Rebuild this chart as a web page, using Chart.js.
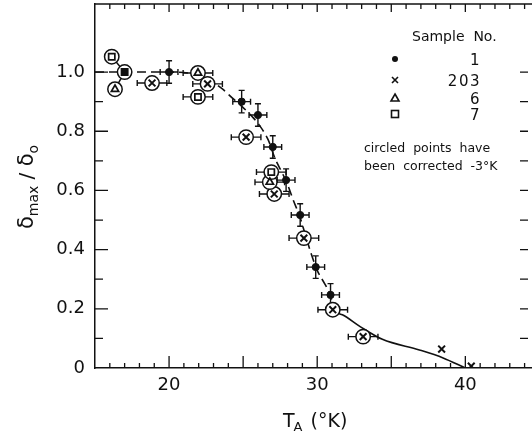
<!DOCTYPE html>
<html>
<head>
<meta charset="utf-8">
<script src="https://cdn.jsdelivr.net/npm/chart.js@4.4.1/dist/chart.umd.min.js"></script>
<style>
  html, body { margin: 0; padding: 0; background: #fff; }
  #wrap { width: 532px; height: 438px; position: relative; }
</style>
</head>
<body>
<div id="wrap"><canvas id="chart"></canvas></div>
<script>
// sample 1 - filled dots, with T and delta error bars
const s1T = [20.0, 24.9, 26.0, 27.0, 27.9, 28.85, 29.9, 30.9];
const s1D = [1.0, 0.90, 0.855, 0.747, 0.635, 0.517, 0.341, 0.247];
const s1ErrT = 0.6;
const s1ErrD = 0.038;

// sample 203 - crosses; first ones are circled (corrected -3 K)
const s203T = [18.85, 22.6, 25.2, 27.1, 29.1, 31.05, 33.1, 38.4, 40.4];
const s203D = [0.963, 0.96, 0.78, 0.588, 0.439, 0.197, 0.106, 0.064, 0.006];
const s203Circled = [true, true, true, true, true, true, true, false, false];

// sample 6 - triangles (all circled)
const s6T = [16.35, 21.95, 26.8];
const s6D = [0.942, 0.997, 0.628];

// sample 7 - squares (all circled), the one at 17 K is filled
const s7T = [16.13, 17.0, 21.95, 26.9];
const s7D = [1.052, 1.0, 0.916, 0.662];
const s7Filled = [false, true, false, false];

// error of the corrected temperature
const circErrT = 1.0;

// the drawn curve through the points
const curveT = [15, 20, 21.5, 22.5, 23.6, 24.3, 25.0, 25.6, 26.1, 26.7, 27.15, 27.6, 28.0, 28.4, 28.8,
                29.2, 29.6, 30.0, 30.5, 30.9, 31.1, 31.7, 32.9, 34.4, 36.9, 38.5, 40];
const curveD = [1.0, 1.0, 0.995, 0.98, 0.943, 0.911, 0.88, 0.85, 0.82, 0.77, 0.708, 0.663, 0.62, 0.565, 0.515,
                0.45, 0.385, 0.33, 0.285, 0.245, 0.2, 0.18, 0.14, 0.097, 0.061, 0.034, 0.0];

const yTickLabels = ['0', '0.2', '0.4', '0.6', '0.8', '1.0'];
const xTickLabels = ['20', '30', '40'];

const FONT = '"DejaVu Sans", sans-serif';

const pts = (xs, ys) => xs.map((x, i) => ({ x: x, y: ys[i] }));

// circled points collected from the samples
const circled = [];
s203T.forEach((t, i) => { if (s203Circled[i]) circled.push({ x: t, y: s203D[i] }); });
s6T.forEach((t, i) => circled.push({ x: t, y: s6D[i] }));
s7T.forEach((t, i) => circled.push({ x: t, y: s7D[i] }));

// horizontal error bars for circled points (not on the 16-17 K cluster)
const circErr = circled.map(p => p.x > 18 ? circErrT : 0);

// short lines joining the overlapping cluster at 16-17 K
const cluster = [
  { x: s7T[0], y: s7D[0] },
  { x: s7T[1], y: s7D[1] },
  { x: s6T[0], y: s6D[0] }
];

const errorBars = {
  id: 'errorBars',
  beforeDatasetsDraw(chart) {
    const ctx = chart.ctx;
    const xs = chart.scales.x, ys = chart.scales.y;
    ctx.save();
    ctx.strokeStyle = '#111';
    ctx.lineWidth = 1.4;
    chart.data.datasets.forEach(ds => {
      if (!ds.errX && !ds.errY) return;
      ds.data.forEach((p, i) => {
        const ex = ds.errX ? (Array.isArray(ds.errX) ? ds.errX[i] : ds.errX) : 0;
        const ey = ds.errY ? (Array.isArray(ds.errY) ? ds.errY[i] : ds.errY) : 0;
        const px = xs.getPixelForValue(p.x), py = ys.getPixelForValue(p.y);
        ctx.beginPath();
        if (ex) {
          const l = xs.getPixelForValue(p.x - ex), r = xs.getPixelForValue(p.x + ex);
          ctx.moveTo(l, py); ctx.lineTo(r, py);
          ctx.moveTo(l, py - 3); ctx.lineTo(l, py + 3);
          ctx.moveTo(r, py - 3); ctx.lineTo(r, py + 3);
        }
        if (ey) {
          const t = ys.getPixelForValue(p.y + ey), b = ys.getPixelForValue(p.y - ey);
          ctx.moveTo(px, t); ctx.lineTo(px, b);
          ctx.moveTo(px - 3, t); ctx.lineTo(px + 3, t);
          ctx.moveTo(px - 3, b); ctx.lineTo(px + 3, b);
        }
        ctx.stroke();
      });
    });
    ctx.restore();
  }
};

// inward ticks, top frame line, titles and the key
const frame = {
  id: 'frame',
  afterDraw(chart) {
    const ctx = chart.ctx;
    const a = chart.chartArea;
    const xs = chart.scales.x, ys = chart.scales.y;
    ctx.save();
    ctx.strokeStyle = '#111';
    ctx.fillStyle = '#111';

    // top line
    ctx.lineWidth = 1.5;
    ctx.beginPath();
    ctx.moveTo(a.left, a.top); ctx.lineTo(a.right, a.top);
    ctx.stroke();

    ctx.lineWidth = 1.3;
    ctx.beginPath();
    for (let t = 16; t <= 44; t++) {
      const px = xs.getPixelForValue(t);
      const len = t % 5 === 0 ? 12 : 5;
      ctx.moveTo(px, a.bottom); ctx.lineTo(px, a.bottom - len);
      ctx.moveTo(px, a.top); ctx.lineTo(px, a.top + (t % 5 === 0 ? 8 : 5));
    }
    for (let k = 1; k <= 10; k++) {
      const py = ys.getPixelForValue(k / 10);
      ctx.moveTo(a.left, py); ctx.lineTo(a.left + (k % 2 === 0 ? 13 : 8), py);
      ctx.moveTo(a.right - 4, py); ctx.lineTo(a.right - 12, py);
    }
    ctx.stroke();

    // x title: T_A (°K)
    const bx = a.left + 188, by = 427;
    ctx.textBaseline = 'alphabetic';
    ctx.textAlign = 'left';
    ctx.font = '19px ' + FONT;
    ctx.fillText('T', bx, by);
    let w = ctx.measureText('T').width;
    ctx.font = '13px ' + FONT;
    ctx.fillText('A', bx + w - 1, by + 4);
    w += ctx.measureText('A').width + 1;
    ctx.font = '19px ' + FONT;
    ctx.fillText(' (°K)', bx + w, by);

    // y title: delta_max / delta_o, rotated
    ctx.save();
    ctx.translate(33, 187);
    ctx.rotate(-Math.PI / 2);
    const parts = [
      ['δ', 21, 0], ['max', 14, 5], [' / ', 20, 0], ['δ', 21, 0], ['o', 14, 5]
    ];
    let total = 0;
    parts.forEach(p => { ctx.font = p[1] + 'px ' + FONT; total += ctx.measureText(p[0]).width; });
    let cx = -total / 2;
    parts.forEach(p => {
      ctx.font = p[1] + 'px ' + FONT;
      ctx.fillText(p[0], cx, p[2]);
      cx += ctx.measureText(p[0]).width;
    });
    ctx.restore();

    // key
    ctx.font = '14px ' + FONT;
    ctx.fillText('Sample  No.', 412, 41);
    const rowY = [59, 80, 98, 114];
    const rowN = ['1', '203', '6', '7'];
    ctx.font = '15px ' + FONT;
    ctx.textAlign = 'right';
    ctx.letterSpacing = '1.5px';
    rowN.forEach((n, i) => ctx.fillText(n, 481, rowY[i] + 6));
    ctx.letterSpacing = '0px';
    const sx = 395;
    ctx.lineWidth = 1.6;
    ctx.beginPath(); ctx.arc(sx, rowY[0], 3, 0, Math.PI * 2); ctx.fill();
    ctx.beginPath();
    ctx.moveTo(sx - 3, rowY[1] - 3); ctx.lineTo(sx + 3, rowY[1] + 3);
    ctx.moveTo(sx + 3, rowY[1] - 3); ctx.lineTo(sx - 3, rowY[1] + 3);
    ctx.stroke();
    ctx.beginPath();
    ctx.moveTo(sx, rowY[2] - 4); ctx.lineTo(sx + 4, rowY[2] + 3); ctx.lineTo(sx - 4, rowY[2] + 3); ctx.closePath();
    ctx.stroke();
    ctx.strokeRect(sx - 3.5, rowY[3] - 3.5, 7, 7);

    ctx.textAlign = 'left';
    ctx.font = '12.5px ' + FONT;
    ctx.fillText('circled  points  have', 364, 152);
    ctx.fillText('been  corrected  -3°K', 364, 170);
    ctx.restore();
  }
};

new Chart(document.getElementById('chart'), {
  type: 'scatter',
  data: {
    datasets: [
      {
        label: 'sample 1',
        data: pts(s1T, s1D),
        errX: s1ErrT, errY: s1ErrD,
        pointStyle: 'circle', pointRadius: 3.6,
        backgroundColor: '#111', borderColor: '#111', borderWidth: 1,
        order: 0
      },
      {
        label: 'sample 203',
        data: pts(s203T, s203D),
        pointStyle: 'crossRot', pointRadius: 4.8,
        borderColor: '#111', borderWidth: 2,
        order: 0
      },
      {
        label: 'sample 6',
        data: pts(s6T, s6D),
        pointStyle: 'triangle', pointRadius: 4.2,
        backgroundColor: '#fff', borderColor: '#111', borderWidth: 1.7,
        order: 0
      },
      {
        label: 'sample 7',
        data: pts(s7T, s7D),
        pointStyle: 'rect', pointRadius: 4.4,
        backgroundColor: s7Filled.map(f => f ? '#111' : '#fff'),
        borderColor: '#111', borderWidth: 1.7,
        order: 0
      },
      {
        label: 'circled',
        data: circled,
        errX: circErr,
        pointStyle: 'circle', pointRadius: 7.2,
        backgroundColor: '#fff', borderColor: '#111', borderWidth: 1.5,
        order: 1
      },
      {
        label: 'cluster',
        type: 'line',
        data: cluster,
        showLine: true, pointRadius: 0,
        borderColor: '#111', borderWidth: 1.5,
        order: 2
      },
      {
        label: 'curve',
        type: 'line',
        data: pts(curveT, curveD),
        showLine: true, pointRadius: 0,
        cubicInterpolationMode: 'monotone',
        borderColor: '#111', borderWidth: 1.6,
        segment: {
          borderDash: c => c.p0.parsed.x < 31 ? [9, 5] : undefined
        },
        order: 3
      }
    ]
  },
  options: {
    responsive: true,
    maintainAspectRatio: false,
    animation: false,
    layout: { autoPadding: false, padding: { top: 4, right: 0, left: 0, bottom: 0 } },
    plugins: { legend: { display: false }, tooltip: { enabled: false } },
    scales: {
      x: {
        type: 'linear',
        min: 15, max: 44.5,
        afterFit: s => { s.height = 70; s.paddingLeft = 0; s.paddingRight = 0; },
        grid: { display: false, drawTicks: false },
        border: { display: true, color: '#111', width: 1.5 },
        ticks: {
          stepSize: 1, autoSkip: false, maxRotation: 0, padding: 7,
          color: '#111', font: { family: FONT, size: 18 },
          callback: v => xTickLabels.includes(String(v)) ? String(v) : ''
        }
      },
      y: {
        min: 0, max: 1.23,
        afterFit: s => { s.width = 95; s.paddingTop = 0; s.paddingBottom = 0; },
        grid: { display: false, drawTicks: false },
        border: { display: true, color: '#111', width: 1.5 },
        ticks: {
          stepSize: 0.1, autoSkip: false, padding: 10,
          color: '#111', font: { family: FONT, size: 18 },
          callback: v => {
            const k = Math.round(v * 10);
            if (k % 2 || k > 10 || Math.abs(v * 10 - k) > 1e-6) return '';
            return yTickLabels[k / 2];
          }
        }
      }
    }
  },
  plugins: [errorBars, frame]
});
</script>
</body>
</html>
